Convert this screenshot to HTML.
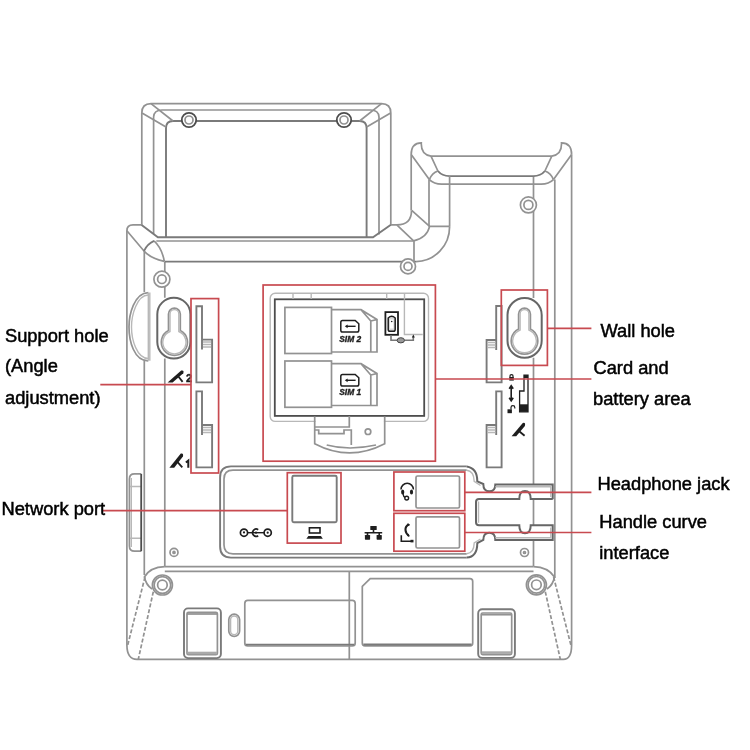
<!DOCTYPE html>
<html><head><meta charset="utf-8">
<style>
html,body{margin:0;padding:0;background:#fff;width:750px;height:750px;overflow:hidden}
svg{position:absolute;left:0;top:0;will-change:transform}
.l{fill:none;stroke:#929292;stroke-width:1.7}
.g{fill:none;stroke:#b8b8b8;stroke-width:1.4}
.m{fill:none;stroke:#7a7a7a;stroke-width:1.9}
.d{fill:none;stroke:#4d4d4d;stroke-width:1.8}
.o{fill:none;stroke:#666;stroke-width:2}
.r{fill:none;stroke:#c84a50;stroke-width:1.7}
.k{fill:#1e1e1e;stroke:none}
.ks{fill:none;stroke:#1e1e1e}
.t{font-family:"Liberation Sans",sans-serif;font-size:18.3px;fill:#000;stroke:#000;stroke-width:0.5}
.s{font-family:"Liberation Sans",sans-serif;font-size:8.4px;font-weight:bold;font-style:italic;fill:#1e1e1e;stroke:#1e1e1e;stroke-width:0.35}
</style></head>
<body>
<svg width="750" height="750" viewBox="0 0 750 750">
<g id="stand">
<path class="l" d="M141.8,224.8 V113 Q141.8,103.6 151,103.6 H381.5 Q390.8,103.6 390.8,113 V224.8"/>
<path class="l" d="M153.6,234 V117 Q154,110 162,110 H370.6 Q378.6,110 379,117 V234.4"/>
<path class="m" d="M166,237 V128 Q166,121 173,121 H359.6 Q366.6,121 366.6,128 V237"/>
<path class="l" d="M142,113 L166,127 M151,103.6 L173,121 M390.6,113 L366.6,127 M381.5,103.6 L359.6,121"/>
<path class="m" d="M141.3,224.8 L157.9,237.2 H373 L390.9,224.8"/>
<path class="l" d="M156.3,241 H413.6"/>
</g>
<g id="body">
<path class="l" d="M126.9,645 V230.7 Q126.9,224.8 133,224.8 H141.3"/>
<path class="l" d="M126.9,230.7 L144,251 M144,251 Q150,258 164.3,261.4 M154.1,240.8 Q162,248 164.3,261.4"/>
<path class="m" d="M144,251 Q147,244 154.1,240.8"/>
<path class="l" d="M144.3,251 V292 M144.3,361 V575"/>
<path class="l" d="M164.8,261.6 V297.8 M164.8,358.6 V566.5"/>
<path class="m" d="M164.8,261.6 H416"/>
<path class="l" d="M126.9,645 Q127,659.4 137,659.4 H563.4 Q571.6,659.4 571.6,645 V154.5"/>
<path class="l" d="M554.8,179.6 V578 M533.5,176.1 V298 M533.5,357.7 V484 M533.5,499.5 V525 M533.5,540.5 V566.5"/>
<path class="l" d="M164.8,566.6 H533.5 M164.8,571.3 H533.5 M349.3,571.3 V659.4"/>
<path class="l" d="M164.8,566.6 Q150,567 144.4,577 Q146,585 152,589"/>
<path class="l" d="M533.5,566.6 Q548,567 554.5,577 Q553,585 547,589"/>
<path class="l" stroke-dasharray="4,2" d="M145,577 L127.3,646.7 M153.3,591.7 L138.3,659.3 M553.6,577 L571.3,646.7 M545.3,591.7 L560.3,659.3"/>
</g>
<g id="cradle">
<path class="l" d="M411.2,210.4 V154.5 Q411.2,143 421.3,142.8 C421,149 423,155 431,156.1 H551.8 C559.8,155 561.8,149 561.5,142.8 Q571.6,143 571.6,154.5"/>
<path class="l" d="M411.2,154.5 L429.3,179.6 M431,156.1 L437.9,171 M571.6,154.5 L553.5,179.6 M551.8,156.1 L544.9,171"/>
<path class="m" d="M437.9,171 Q442,176 449.6,176.1 H533.2 Q540.8,176 544.9,171"/>
<path class="l" d="M429.3,179.6 Q434,184 441.6,184.2 H541.2 Q548.8,184 553.5,179.6"/>
<path class="l" d="M429.3,179.6 Q432,173 437.9,171 M553.5,179.6 Q550.8,173 544.9,171"/>
<path class="l" d="M429,179.6 V226.4 M449.6,176.1 V226.4"/>
<path class="l" d="M411.5,210.4 Q411.5,224.8 396.8,224.8 H390.9 M411.7,210.4 L429.6,226.4 M396.8,224.8 L413.6,240.8 M413.6,240.8 Q427,238 429.6,226.4 M429.6,226.4 H449.6 M449.6,226.4 A34,35 0 0 1 416,261.6 M414,240.8 V261.6"/>
</g>
<g id="screws">
<circle class="d" style="fill:#fff" cx="189" cy="120" r="7.2"/><circle class="l" cx="189" cy="120" r="4"/>
<circle class="d" style="fill:#fff" cx="344" cy="120" r="7.2"/><circle class="l" cx="344" cy="120" r="4"/>
<circle class="l" style="fill:#fff" cx="161.9" cy="279.2" r="8"/><circle class="l" cx="161.9" cy="279.2" r="4.3"/>
<circle class="l" style="fill:#fff" cx="408" cy="266.4" r="7.5"/><circle class="l" cx="408" cy="266.4" r="4"/>
<circle class="l" style="fill:#fff" cx="528.4" cy="204.9" r="8"/><circle class="l" cx="528.4" cy="204.9" r="4.5"/>
<circle class="l" style="fill:#fff" cx="162.4" cy="585" r="10"/><circle class="l" cx="162.4" cy="585" r="8.3"/><circle class="l" cx="162.4" cy="585" r="4.8"/>
<circle class="l" style="fill:#fff" cx="536.4" cy="584.8" r="10"/><circle class="l" cx="536.4" cy="584.8" r="8.3"/><circle class="l" cx="536.4" cy="584.8" r="4.8"/>
<circle class="l" style="fill:#fff" cx="174" cy="552.4" r="4"/><circle class="l" cx="174" cy="552.4" r="1"/>
<circle class="l" style="fill:#fff" cx="524.5" cy="552.5" r="4"/><circle class="l" cx="524.5" cy="552.5" r="1"/>
</g>
<g id="keyholes">
<rect class="o" x="157.3" y="297.8" width="33.1" height="60.8" rx="16.5"/>
<path class="l" d="M168.5,330.6 V314 A5.9,5.9 0 0 1 180.3,314 V330.6 A13.1,13.1 0 1 1 168.5,330.6 Z"/>
<path class="g" d="M170,331.5 V314 A4.4,4.4 0 0 1 178.8,314 V331.5 A11.6,11.6 0 1 1 170,331.5 Z"/>
<rect class="o" x="507.5" y="298" width="34.2" height="59.7" rx="17"/>
<path class="l" d="M518.6,329 V314 A5.9,5.9 0 0 1 530.4,314 V329 A13.3,13.3 0 1 1 518.6,329 Z"/>
<path class="g" d="M520.1,330 V314 A4.4,4.4 0 0 1 528.9,314 V330 A11.8,11.8 0 1 1 520.1,330 Z"/>
<path class="l" d="M148.3,292.6 C134,293 129,315 129,327 C129,341 134,361 148.3,360.8"/>
<path class="g" d="M148.3,295 C137,295 131.5,315 131.5,327 C131.5,340 137,358.5 148.3,358.5"/>
<path class="g" d="M148.3,292.6 V360.8 M149.8,292.6 V360.8"/>
</g>
<g id="slots">
<path class="m" d="M196.4,382.4 V306.2 H202 V339.6 H212.1 V382.4 Z M202,339.6 V349.5"/>
<path class="g" d="M203,342 H211 M203,344.5 H211 M203,347 H211"/>
<path class="m" d="M196.4,467.4 V391.4 H202 V425 H212.1 V467.4 Z M202,425 V435"/>
<path class="g" d="M203,427.5 H211 M203,430 H211 M203,432.5 H211"/>
<path class="m" d="M501.6,382.4 V306 H496.2 V340 H486.6 V382.4 Z M496.2,340 V350"/>
<path class="g" d="M487.5,342.5 H495.5 M487.5,345 H495.5 M487.5,347.5 H495.5"/>
<path class="m" d="M501.6,467.4 V391.4 H496.2 V425 H486.6 V467.4 Z M496.2,425 V435"/>
<path class="g" d="M487.5,427.5 H495.5 M487.5,430 H495.5 M487.5,432.5 H495.5"/>
<path class="l" d="M141.2,551.2 H134.5 Q129.4,551.2 129.4,546 V479 Q129.4,473.9 134.5,473.9 H141.2"/>
<path class="g" d="M131.3,478 V547 M130,486.5 H141 M130,538.3 H141"/>
<path class="d" d="M141.2,473.9 V551.2"/>
</g>
<g id="card">
<rect class="g" x="270.2" y="293.2" width="158.3" height="128.2" rx="5"/>
<rect class="d" x="274.8" y="299.3" width="149.4" height="116.6"/>
<path class="g" d="M293,293.2 V299 M311.2,293.2 V299 M386.7,293.2 V299 M404.5,293.2 V299"/>
<rect class="l" x="284.9" y="307.4" width="46.6" height="46.1"/>
<path class="l" d="M331.5,309.7 H361 L377,319.5 V352 H331.5 M361,309.7 L370.8,321 V352 M370.8,321 L377,319.5"/>
<rect class="l" x="284.9" y="361" width="46.6" height="46.3"/>
<path class="l" d="M331.5,363.7 H361 L377,373.5 V405.5 H331.5 M361,363.7 L370.8,375 V405.5 M370.8,375 L377,373.5"/>
<path class="ks" stroke-width="1.5" d="M342.5,320.4 H355.2 L358.8,323.8 V330.2 Q358.8,332 357,332 H342.6 Q340.8,332 340.8,330.2 V322.2 Q340.8,320.4 342.5,320.4 Z"/>
<path class="ks" stroke-width="1.4" d="M346.5,326.3 H355.6"/><path class="k" d="M344.8,326.3 L347.6,324.4 V328.2 Z"/>
<path class="ks" stroke-width="1.5" d="M342.5,374.4 H355.2 L358.8,377.8 V384.2 Q358.8,386 357,386 H342.6 Q340.8,386 340.8,384.2 V376.2 Q340.8,374.4 342.5,374.4 Z"/>
<path class="ks" stroke-width="1.4" d="M346.5,380.3 H355.6"/><path class="k" d="M344.8,380.3 L347.6,378.4 V382.2 Z"/>
<text class="s" x="350.2" y="341.6" text-anchor="middle">SIM 2</text>
<text class="s" x="350.2" y="395.2" text-anchor="middle">SIM 1</text>
<rect class="ks" stroke-width="1.8" x="385.4" y="312.1" width="12.6" height="22.7"/>
<path fill="#d8d8d8" stroke="#1e1e1e" stroke-width="1.5" d="M388.2,318 Q391.7,314.5 395.2,318 V329.5 Q395.2,331.3 393.4,331.3 H390 Q388.2,331.3 388.2,329.5 Z"/>
<rect fill="#fff" stroke="none" x="390" y="319.5" width="3.4" height="9"/>
<circle class="k" cx="391.7" cy="321.5" r="0.8"/>
<path class="g" d="M404.4,299.3 V334.5 H422.7"/>
<path fill="none" stroke="#777" stroke-width="1.6" d="M391,335 V340.3 H397 M404.5,340.3 H413.3 V337"/>
<ellipse fill="#999" stroke="#444" stroke-width="1" cx="400.8" cy="340.3" rx="3.7" ry="2.6"/>
<path class="k" d="M411.8,337.5 L413.3,334.5 L414.8,337.5 Z"/>
<rect fill="#fff" x="315.5" y="417.5" width="68.4" height="5.5"/>
<path class="l" d="M314.7,416.5 V443.7 Q349.5,462 384.7,443.7 V416.5"/>
<path class="l" d="M349.3,415.9 V427 H314.7 M314.7,430 H318.7 V433.7 H344 V430 H351.3 V445 M326.7,445 Q349,451 376,445"/>
<circle class="l" cx="368" cy="431.7" r="2.8"/>
</g>
<g id="panel">
<path class="m" d="M466.7,466.4 H231 Q220.1,466.4 220.1,477.4 V546.6 Q220.1,557.6 231,557.6 H466.7"/>
<path class="l" d="M466.7,470.2 H233 Q224,470.2 224,479 V545 Q224,553.8 233,553.8 H466.7"/>
<rect class="m" x="292.3" y="475.8" width="44.4" height="46.5" rx="1.5"/>
<rect class="l" x="416" y="476" width="43.5" height="32" rx="1.5"/>
<rect class="l" x="416" y="516.8" width="43.5" height="31.2" rx="1.5"/>
<path class="o" d="M466.7,466.4 Q477.3,468 477.3,481.3 L483.3,484 Q483.3,491.3 489.3,491.3 Q495.3,491.3 495.3,484.4 H552.7 V499.3"/>
<path class="g" d="M466.7,470.2 Q474,471 474.2,481.3 L480.5,485.5 M495.3,486.8 H550.8 V497"/>
<path class="o" d="M552.7,499 H530.7 Q530.7,491 525,491 Q519.3,491 519.3,499 H479 Q476,499 476,502 V522.3 Q476,525.3 479,525.3 H519.3 Q519.3,533.3 525,533.3 Q530.7,533.3 530.7,525.3 H552.7 V540 H495.3 Q495.3,532.7 489.3,532.7 Q483.3,532.7 483.3,540 L477.3,543 Q477.3,557 466.7,557.6"/>
<path class="g" d="M478.5,501.5 V522.8 M495.3,537.7 H550.8 V527.5 M466.7,553.8 Q474,553 474.2,543 L480.5,539"/>
</g>
<g id="icons">
<path class="k" d="M167.6,382.6 L172.6,382.6 L183.3,373.2 Q184.4,369.8 181.2,370.6 Z"/>
<path class="ks" stroke-width="1.8" d="M178.6,376.8 L182.6,381.9"/>
<text x="186" y="382.3" font-family="Liberation Sans" font-weight="bold" font-size="11" fill="#1e1e1e" stroke="#1e1e1e" stroke-width="0.4">2</text>
<path class="k" d="M169.4,467.8 L174.2,467.8 L182.9,456.6 Q183.8,452.6 180.8,453.6 Z"/>
<path class="ks" stroke-width="1.8" d="M176.9,461.4 L182.3,467.4"/>
<path class="ks" stroke-width="2" d="M185.9,462.6 L188.3,460.6 V467.8"/>
<path class="k" d="M511.6,436.3 L516.2,436.3 L524.9,426 Q525.8,422 522.8,423 Z"/>
<path class="ks" stroke-width="1.8" d="M519.5,431.5 L524.6,435.8"/>
<rect class="k" x="509.3" y="377" width="4.5" height="3.6"/>
<circle class="ks" stroke-width="1.2" cx="511.5" cy="376.3" r="1.6"/>
<path class="ks" stroke-width="1.6" d="M511.2,387 V399.6 M509.2,388.8 L511.2,385.8 L513.2,388.8 M509.2,397.8 L511.2,400.8 L513.2,397.8"/>
<rect class="k" x="507.5" y="409.3" width="4.4" height="3.9"/>
<path class="ks" stroke-width="1.2" d="M511,409.3 V407.6 A1.9,1.9 0 0 1 514.8,407.6 V408.5"/>
<path class="ks" stroke-width="1.3" d="M524,375.1 H528 V411.8 H519.6 V391 H524 Z"/>
<rect class="k" x="524" y="375.1" width="4" height="3"/>
<rect class="k" x="519.6" y="404.3" width="8.4" height="7.5"/>
</g>
<g id="porticons">
<path class="ks" stroke-width="1.4" d="M247.5,532.7 H264"/>
<circle fill="#fff" stroke="#1e1e1e" stroke-width="1.7" cx="244" cy="532.7" r="3.6"/>
<circle fill="#fff" stroke="#1e1e1e" stroke-width="1.7" cx="267.7" cy="532.7" r="3.6"/>
<circle class="k" cx="244" cy="532.4" r="1.1"/><circle class="k" cx="267.7" cy="532.7" r="1.1"/>
<path class="ks" stroke-width="1.7" d="M258.2,529.7 A3.6,3.6 0 1 0 258.2,535.7"/>
<circle class="k" cx="256" cy="532.7" r="1.1"/>
<rect class="ks" stroke-width="1.6" x="309.4" y="527.8" width="10.6" height="5.2"/>
<path class="k" d="M308.3,536 H321 L322.8,538.8 H306.4 Z"/>
<rect class="k" x="370.3" y="526" width="6.4" height="4" rx="0.6"/>
<path class="ks" stroke-width="1.6" d="M373.5,529.6 V532.8 M364.6,532.8 H382.2 M367.5,532.8 V535.5 M379.2,532.8 V535.5"/>
<rect class="k" x="364.9" y="534.9" width="5.2" height="4.8" rx="0.6"/>
<rect class="k" x="376.6" y="534.9" width="5.2" height="4.8" rx="0.6"/>
<path class="ks" stroke-width="1.5" d="M401,489.5 A6.2,6.2 0 0 1 413.4,489.5"/>
<ellipse class="k" cx="402.7" cy="492" rx="1.6" ry="2.6"/>
<ellipse class="k" cx="411.5" cy="492" rx="1.6" ry="2.6"/>
<path class="ks" stroke-width="1.3" d="M403,494 Q403.5,496.5 405,497.5"/>
<circle class="ks" stroke-width="1.4" cx="406.7" cy="498.1" r="1.9"/>
<path class="ks" stroke-width="2.1" d="M408.8,524.4 Q405.2,526.5 405.5,530 Q405.8,533.5 408.6,535.4"/>
<path class="k" d="M407.6,523.2 L410,524.5 L409,526 L407.2,525 Z M407.8,534.2 L409.8,535.4 L409,537 L407,535.8 Z"/>
<path class="ks" stroke-width="1.6" d="M401.3,535.2 V541.3 H412.5"/>
<path class="k" d="M410.5,539.8 H413.5 V542.4 H410.5 Z"/>
</g>
<g id="feet">
<rect class="m" x="184" y="608.4" width="36.9" height="49.7" rx="4"/>
<rect class="l" x="187" y="612.3" width="30.4" height="42.4" rx="1.5"/>
<rect fill="#aaa" x="187.5" y="651.7" width="29.4" height="2.6"/>
<path class="l" d="M187,614 H217.4"/>
<rect class="m" x="478.2" y="609.2" width="36.7" height="48.7" rx="4"/>
<rect class="l" x="481.2" y="613" width="30.5" height="41.6" rx="1.5"/>
<rect fill="#aaa" x="481.7" y="651.3" width="29.5" height="2.6"/>
<path class="l" d="M481.2,614.7 H511.7"/>
<rect class="l" x="228.8" y="614.2" width="10.8" height="22.2" rx="5.4"/>
<rect class="g" x="230.6" y="616" width="7.2" height="18.6" rx="3.6"/>
<rect class="l" x="244.8" y="600.4" width="110.4" height="45.6" rx="3"/>
<path class="m" d="M246,644.6 H354"/>
<path class="l" d="M370.2,578.7 H470 Q472.7,578.7 472.7,581.5 V643 Q472.7,645.9 470,645.9 H365 Q362.3,645.9 362.3,643 V586.4 Z"/>
<path class="m" d="M363.5,644.5 H471.5"/>
</g>
<g id="red">
<rect class="r" x="191" y="298.6" width="27.6" height="174.4"/>
<rect class="r" x="263.1" y="285" width="172.3" height="176.2"/>
<rect class="r" x="501.3" y="290" width="46.1" height="75.4"/>
<rect class="r" x="287.3" y="472.7" width="53.7" height="70.4"/>
<rect class="r" x="393.9" y="472" width="70.9" height="38.7"/>
<rect class="r" x="393.9" y="513.3" width="70.9" height="37.9"/>
<path class="r" d="M100.3,384.7 H191 M102.4,510.6 H287.3 M547.4,328.4 H591.4 M435.4,379 H591.4 M464.8,492.3 H591.4 M464.8,532.5 H591.4"/>
</g>
<g id="labels">
<text class="t" x="5" y="342">Support hole</text>
<text class="t" x="5" y="372.4">(Angle</text>
<text class="t" x="5" y="403.5">adjustment)</text>
<text class="t" x="1.5" y="515">Network port</text>
<text class="t" x="600.5" y="336.6">Wall hole</text>
<text class="t" x="593.5" y="373.7">Card and</text>
<text class="t" x="593" y="405.4">battery area</text>
<text class="t" x="597.5" y="489.9">Headphone jack</text>
<text class="t" x="599.3" y="527.9">Handle curve</text>
<text class="t" x="599.3" y="558.8">interface</text>
</g>
</svg>
</body></html>
